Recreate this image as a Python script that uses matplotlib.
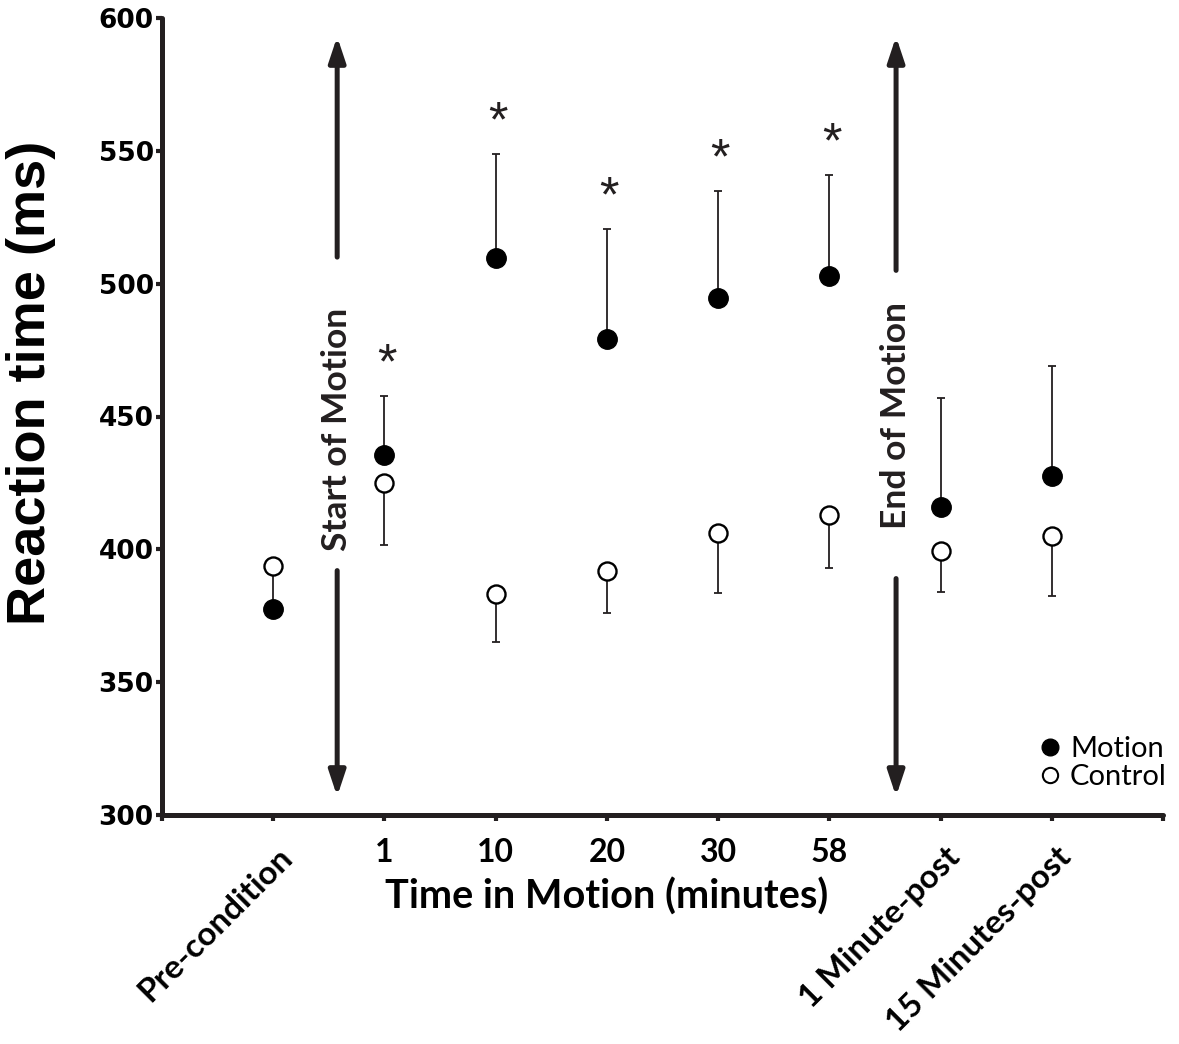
import matplotlib
matplotlib.use("Agg")
import matplotlib.pyplot as plt
from matplotlib.lines import Line2D
from matplotlib.transforms import blended_transform_factory
import numpy as np

# ---- data ----
labels = ['Pre-condition', '1', '10', '20', '30', '58', '1 Minute-post', '15 Minutes-post']
rotated = [True, False, False, False, False, False, True, True]
motion = [377.5, 435.5, 509.6, 479.0, 494.6, 503.0, 416.0, 427.6]
motion_upper = [392.0, 457.7, 548.8, 520.5, 535.0, 541.0, 457.0, 469.0]
control = [393.7, 425.0, 383.0, 392.0, 406.0, 413.0, 399.4, 405.0]
control_lower = [393.7, 401.6, 365.0, 376.0, 383.6, 393.0, 384.0, 382.4]
significant = [False, True, True, True, True, True, False, False]
yticks = [300, 350, 400, 450, 500, 550, 600]

# event markers: (x position, text, text centre, upper gap end, lower gap end)
events = [(0.575, 'Start of Motion', 445.0, 510.0, 392.0),
          (5.6, 'End of Motion', 450.5, 505.0, 389.0)]
arrow_top, arrow_bottom = 593.0, 307.0

dark = '#231f20'
calib = 'Lato'

fig = plt.figure(figsize=(11.79, 10.44), dpi=100)
L, R, T, B = 162, 1163, 18, 815
ax = fig.add_axes([L / 1179, 1 - B / 1044, (R - L) / 1179, (B - T) / 1044])

x = np.arange(len(labels))
motion = np.array(motion); control = np.array(control)
motion_upper = np.array(motion_upper); control_lower = np.array(control_lower)

# error bars
ax.errorbar(x, motion, yerr=[np.zeros_like(motion), motion_upper - motion], fmt='none',
            ecolor=dark, elinewidth=1.3, capsize=3.2, capthick=1.3, zorder=2)
ax.errorbar(x, control, yerr=[control - control_lower, np.zeros_like(control)], fmt='none',
            ecolor=dark, elinewidth=1.3, capsize=3.2, capthick=1.3, zorder=2)
# markers
ax.plot(x, motion, 'o', color='black', markersize=14, zorder=4, linestyle='none')
ax.plot(x, control, 'o', markerfacecolor='white', markeredgecolor='black',
        markeredgewidth=1.7, markersize=13, zorder=4, linestyle='none')

# asterisks
for xi, up, sig in zip(x, motion_upper, significant):
    if sig:
        ax.text(xi + 0.02, up + 11.5, '*', ha='center', va='center', fontsize=36,
                family='Liberation Sans', color=dark)

# event arrows & text
for ex, txt, tc, g_up, g_lo in events:
    for start, tip in ((g_up, arrow_top), (g_lo, arrow_bottom)):
        ax.annotate('', xy=(ex, tip), xytext=(ex, start),
                    arrowprops=dict(arrowstyle='-|>,head_length=1.5,head_width=0.5',
                                    lw=3.6, color=dark, shrinkA=0, shrinkB=0))
    ax.text(ex, tc, txt, rotation=90, ha='center', va='center', fontsize=25.5,
            fontweight='bold', family=calib, color=dark)

# axes styling
ax.set_xlim(-1, 8)
ax.set_ylim(300, 600)
for s in ['top', 'right']:
    ax.spines[s].set_visible(False)
for s in ['left', 'bottom']:
    ax.spines[s].set_linewidth(3.6)
    ax.spines[s].set_color(dark)
    ax.spines[s].set_capstyle('round')
ax.set_xticks(np.arange(-1, 9))
ax.set_xticklabels([])
ax.set_yticks(yticks)
ax.set_yticklabels([str(v) for v in yticks], fontsize=19, fontweight='bold',
                   family='DejaVu Sans', color='black')
ax.tick_params(axis='both', direction='out', length=4, width=3, color=dark)
ax.tick_params(axis='y', pad=2)

tr = blended_transform_factory(ax.transData, ax.transAxes)
for xi, lab, rot in zip(x, labels, rotated):
    if rot:
        ax.text(xi + 0.13, -0.047, lab, transform=tr, rotation=45, rotation_mode='anchor',
                ha='right', va='center', fontsize=24, fontweight='bold', family=calib)
    else:
        ax.text(xi, -0.047, lab, transform=tr, ha='center', va='center', fontsize=23,
                fontweight='bold', family=calib)

ax.text(3.0, -0.103, 'Time in Motion (minutes)', transform=tr, ha='center', va='center',
        fontsize=28.5, fontweight='bold', family=calib)

fig.text(31 / 1179, 1 - 383 / 1044, 'Reaction time (ms)', rotation=90, ha='center',
         va='center', fontsize=39, fontweight='bold', family='Liberation Sans')

handles = [Line2D([], [], marker='o', color='black', linestyle='none', markersize=12),
           Line2D([], [], marker='o', markerfacecolor='white', markeredgecolor='black',
                  markeredgewidth=1.5, linestyle='none', markersize=11)]
fig.legend(handles, ['Motion', 'Control'], loc='center left',
           bbox_to_anchor=(1038 / 1179, 1 - 763 / 1044), frameon=False,
           prop={'family': calib, 'size': 21}, handlelength=0.8, handletextpad=0.3,
           labelspacing=0.05, borderpad=0, borderaxespad=0)

fig.savefig('out.png', dpi=100)
